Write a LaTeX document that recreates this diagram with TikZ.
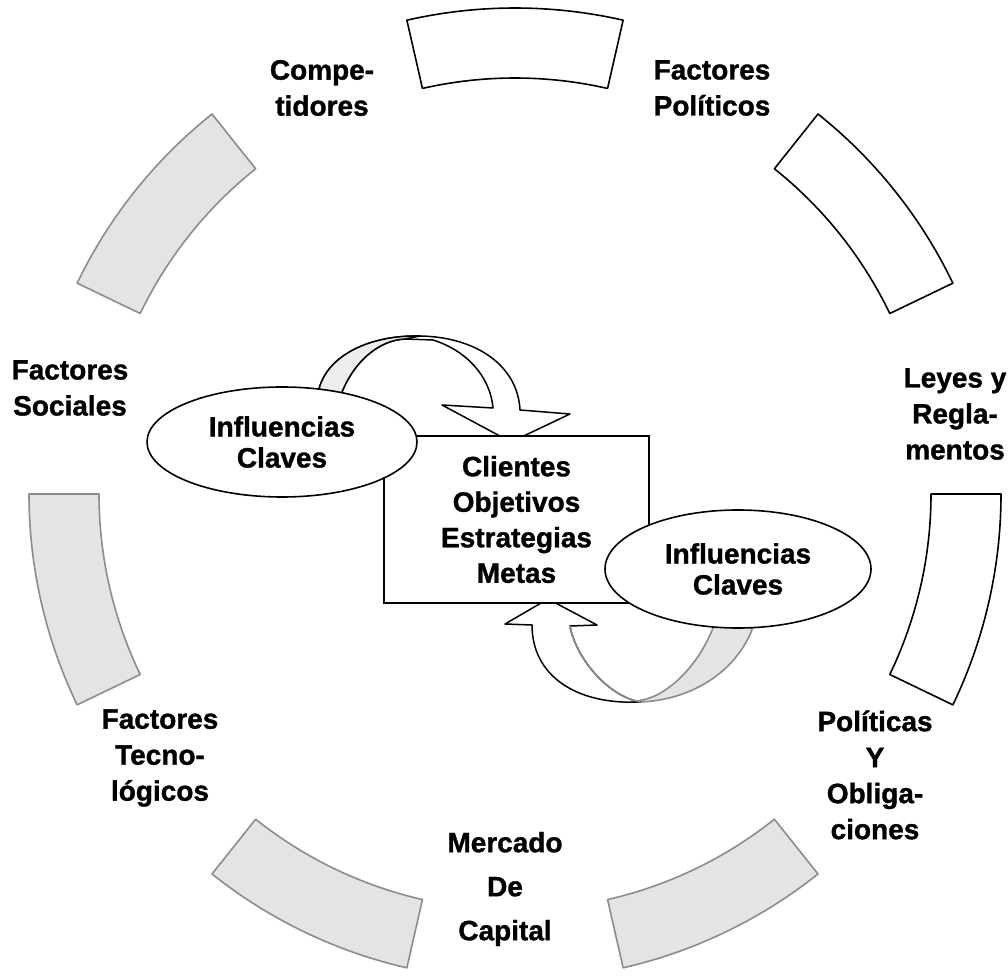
\documentclass[tikz,border=0pt]{standalone}
\usepackage{fontspec}
\setmainfont[BoldFeatures={FakeBold=1.2}]{Liberation Sans}
\usetikzlibrary{shapes.geometric}
\pgfdeclarelayer{bg}
\pgfsetlayers{bg,main}
\definecolor{segfill}{HTML}{E4E4E4}
\definecolor{segline}{HTML}{8C8C8C}
\definecolor{backfill}{HTML}{EDEDED}
\begin{document}
\begin{tikzpicture}[x=1pt,y=1pt,
  wseg/.style={fill=white,draw=black,line width=1.6pt,line join=round},
  gseg/.style={fill=segfill,draw=segline,line width=1.6pt,line join=round},
  arrowline/.style={draw=black,line width=1.5pt,line join=round},
  lbl/.style={font=\fontsize{28}{36}\selectfont\bfseries,align=center,inner sep=0pt},
  box/.style={draw,fill=white,line width=1.6pt,minimum width=265,minimum height=167,inner sep=0pt,
    font=\fontsize{28}{35.5}\selectfont\bfseries,align=center},
  infl/.style={ellipse,draw,fill=white,line width=1.6pt,inner sep=0pt,
    font=\fontsize{28}{31}\selectfont\bfseries,align=center}
]
\useasboundingbox (0,0) rectangle (1008,975);

% central nodes
\node[box] (goal) at (516.5,455.5) {Clientes\\Objetivos\\Estrategias\\Metas};
\node[infl,minimum width=270,minimum height=110] (inL) at (282,533) {Influencias\\Claves};
\node[infl,minimum width=266,minimum height=118] (inR) at (738,406) {Influencias\\Claves};

% outer labels
\node[lbl] (comp) at (322,887) {Compe-\\tidores};
\node[lbl] (fpol) at (712,887) {Factores\\Pol\'iticos};
\node[lbl] (leyes) at (955,561) {Leyes y\\Regla-\\mentos};
\node[lbl] (polob) at (875,200) {Pol\'iticas\\Y\\Obliga-\\ciones};
\node[lbl,font=\fontsize{28}{44}\selectfont\bfseries] (merc) at (505,86) {Mercado\\De\\Capital};
\node[lbl] (ftec) at (160,217) {Factores\\Tecno-\\l\'ogicos};
\node[lbl] (fsoc) at (70,587) {Factores\\Sociales};

\begin{pgfonlayer}{bg}
\fill[white] (0,0) rectangle (1008,975);
% ring of segments
\begin{scope}[shift={(515,481)}]
\foreach \a/\st in {90/wseg,38.5714/wseg,-12.8571/wseg,-64.2857/gseg,-115.7143/gseg,-167.1429/gseg,141.4286/gseg}{
  \draw[\st] ({\a-12.8571}:486) arc[start angle={\a-12.8571},delta angle=25.7143,radius=486]
     -- ({\a+12.8571}:416) arc[start angle={\a+12.8571},delta angle=-25.7143,radius=416] -- cycle;
}
\end{scope}

% upper curved arrow (from left ellipse into the box)
\draw[arrowline,fill=white] (316,572) -- (319,586) .. controls (328,620) and (370,640) .. (420,639)
   .. controls (478,638) and (518,608) .. (520,565) -- (570,561) -- (511,533) -- (442,570) -- (493,567)
   .. controls (490,600) and (465,625) .. (433,635) -- (405,636)
   .. controls (380,635) and (355,615) .. (342,583) -- (340,572) -- cycle;
\draw[arrowline,fill=backfill] (316,572) -- (319,586) .. controls (328,620) and (370,640) .. (420,639)
   -- (405,636) .. controls (380,635) and (355,615) .. (342,583) -- (340,572) -- cycle;

% lower curved arrow (from right ellipse into the box)
\draw[line width=1.6pt,draw=segline,fill=segfill,line join=round] (636,273) .. controls (690,273) and (745,305) .. (757,362)
   -- (718,362) .. controls (705,315) and (670,280) .. (642,275) -- cycle;
\draw[arrowline,fill=white] (532,350) .. controls (532,300) and (575,270) .. (640,273)
   .. controls (605,280) and (575,320) .. (570,349) -- (597,350) -- (548,376) -- (505,351) -- cycle;
\draw[draw=segline,line width=1.6pt] (640,273) .. controls (605,280) and (575,320) .. (570,349);
\end{pgfonlayer}
\end{tikzpicture}
\end{document}
